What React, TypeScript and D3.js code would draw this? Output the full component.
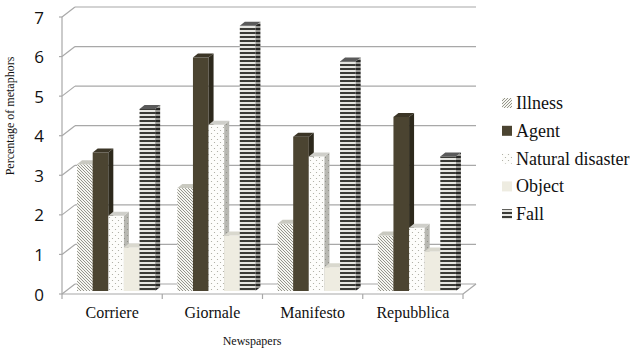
import * as d3 from 'd3';

const categories = ['Corriere', 'Giornale', 'Manifesto', 'Repubblica'];
const seriesNames = ['Illness', 'Agent', 'Natural disaster', 'Object', 'Fall'];
const illness = [3.2, 2.6, 1.7, 1.4];
const agent = [3.5, 5.9, 3.9, 4.4];
const naturalDisaster = [1.9, 4.2, 3.4, 1.6];
const object = [1.1, 1.4, 0.6, 1.0];
const fall = [4.6, 6.7, 5.8, 3.4];
const yTicks = [0, 1, 2, 3, 4, 5, 6, 7];

const values = [illness, agent, naturalDisaster, object, fall];

// front face / side / top fills per series
const faces = [
	{ front: 'url(#pIll)', side: 'url(#pIllS)', top: '#c9c9c0', legend: 'url(#pIllL)' },
	{ front: '#4b4431', side: '#2d291c', top: '#3b3526', legend: '#4b4431' },
	{ front: 'url(#pNat)', side: 'url(#pNatS)', top: '#cfcfca', legend: 'url(#pNat)' },
	{ front: '#eeece1', side: '#c9c8bd', top: '#d9d8ce', legend: '#eeece1' },
	{ front: 'url(#pFall)', side: 'url(#pFallS)', top: '#5a5a5a', legend: 'url(#pFall)' },
];

const W = 640;
const H = 352;
const axisX = 62;
const plotRight = 463;
const wallDx = 13;
const wallDy = -10;
const barDx = 4;
const barDy = -3;
const depthX = 5;
const depthY = -4;
const serif = "'Liberation Serif', 'Times New Roman', Times, serif";

export default function App() {
	const x0 = d3.scaleBand<string>().domain(categories).range([axisX, plotRight]);
	const x1 = d3
		.scaleBand<string>()
		.domain(seriesNames)
		.range([0, x0.bandwidth()])
		.paddingInner(0)
		.paddingOuter(0.71);
	const y = d3.scaleLinear().domain([0, 7]).range([294, 17]);
	const grid = '#a8a8a8';

	return (
		<svg width={W} height={H} style={{ position: 'fixed', left: 0, top: 0, background: '#fff' }}>
			<defs>
				<pattern id="pIll" patternUnits="userSpaceOnUse" width="3" height="3">
					<rect width="3" height="3" fill="#f6f6f1" />
					<path d="M-1,-1 L4,4 M-1,2 L1,4 M2,-1 L4,1" stroke="#8a8a80" strokeWidth="0.9" />
				</pattern>
				<pattern id="pIllL" patternUnits="userSpaceOnUse" width="3" height="3">
					<rect width="3" height="3" fill="#f6f6f1" />
					<path d="M-1,4 L4,-1 M-1,1 L1,-1 M2,4 L4,2" stroke="#8a8a80" strokeWidth="0.9" />
				</pattern>
				<pattern id="pIllS" patternUnits="userSpaceOnUse" width="3" height="3">
					<rect width="3" height="3" fill="#bdbdb5" />
					<path d="M-1,-1 L4,4 M-1,2 L1,4 M2,-1 L4,1" stroke="#6a6a62" strokeWidth="0.9" />
				</pattern>
				<pattern id="pNat" patternUnits="userSpaceOnUse" width="6" height="6">
					<rect width="6" height="6" fill="#fdfdfb" />
					<circle cx="1.5" cy="1.5" r="0.6" fill="#a5a59a" />
					<circle cx="4.5" cy="4.5" r="0.6" fill="#a5a59a" />
				</pattern>
				<pattern id="pNatS" patternUnits="userSpaceOnUse" width="6" height="6">
					<rect width="6" height="6" fill="#b8b8b2" />
					<circle cx="1.5" cy="1.5" r="0.6" fill="#8a8a82" />
					<circle cx="4.5" cy="4.5" r="0.6" fill="#8a8a82" />
				</pattern>
				<pattern id="pFall" patternUnits="userSpaceOnUse" width="4" height="4">
					<rect width="4" height="4" fill="#e6e6e2" />
					<rect width="4" height="2" fill="#3a3a36" />
				</pattern>
				<pattern id="pFallS" patternUnits="userSpaceOnUse" width="4" height="4">
					<rect width="4" height="4" fill="#9a9a96" />
					<rect width="4" height="2" fill="#262624" />
				</pattern>
			</defs>

			{/* walls and grid */}
			{yTicks.map((t) => (
				<g key={t}>
					<line x1={axisX} y1={y(t)} x2={axisX + wallDx} y2={y(t) + wallDy} stroke={grid} strokeWidth={1.2} />
					<line
						x1={axisX + wallDx}
						y1={y(t) + wallDy}
						x2={plotRight + wallDx}
						y2={y(t) + wallDy}
						stroke={grid}
						strokeWidth={1.2}
					/>
					<line x1={axisX - 3} y1={y(t)} x2={axisX} y2={y(t)} stroke={grid} strokeWidth={1.2} />
					<text
						x={44}
						y={y(t)}
						textAnchor="end"
						dominantBaseline="central"
						style={{ fontFamily: "'Open Sans', sans-serif", fontSize: 17 }}
						fill="#111"
					>
						{t}
					</text>
				</g>
			))}
			<line x1={axisX} y1={y(0)} x2={axisX} y2={y(7)} stroke={grid} strokeWidth={1.2} />
			<line x1={axisX} y1={y(0)} x2={plotRight} y2={y(0)} stroke={grid} strokeWidth={1.2} />
			<line
				x1={plotRight}
				y1={y(0)}
				x2={plotRight + wallDx}
				y2={y(0) + wallDy}
				stroke={grid}
				strokeWidth={1.2}
			/>
			{[...categories.map((c) => x0(c)!), plotRight].map((xv, i) => (
				<line key={i} x1={xv} y1={y(0)} x2={xv} y2={y(0) + 5} stroke={grid} strokeWidth={1.2} />
			))}

			{/* bars */}
			{categories.map((c, ci) => (
				<g key={c}>
					{seriesNames.map((s, si) => {
						const v = values[si][ci];
						const w = x1.bandwidth();
						const bx = x0(c)! + x1(s)! + barDx;
						const top = y(v) + barDy;
						const base = y(0) + barDy;
						const f = faces[si];
						return (
							<g key={s}>
								<rect x={bx} y={top} width={w} height={base - top} fill={f.front} />
								<polygon
									points={`${bx + w},${top} ${bx + w + depthX},${top + depthY} ${bx + w + depthX},${base + depthY} ${bx + w},${base}`}
									fill={f.side}
								/>
								<polygon
									points={`${bx},${top} ${bx + depthX},${top + depthY} ${bx + w + depthX},${top + depthY} ${bx + w},${top}`}
									fill={f.top}
								/>
							</g>
						);
					})}
				</g>
			))}

			{/* category labels */}
			{categories.map((c) => (
				<text
					key={c}
					x={x0(c)! + x0.bandwidth() / 2}
					y={318}
					textAnchor="middle"
					style={{ fontFamily: serif, fontSize: 16 }}
					fill="#111"
				>
					{c}
				</text>
			))}
			<text x={252} y={345} textAnchor="middle" style={{ fontFamily: serif, fontSize: 12 }} fill="#111">
				Newspapers
			</text>
			<text
				transform={`translate(14,116) rotate(-90)`}
				textAnchor="middle"
				style={{ fontFamily: serif, fontSize: 12 }}
				fill="#111"
			>
				Percentage of metaphors
			</text>

			{/* legend */}
			{seriesNames.map((s, i) => {
				const ly = 103 + i * 27.8;
				return (
					<g key={s}>
						<rect x={502} y={ly - 5} width={10} height={10} fill={faces[i].legend} />
						<text x={516} y={ly} dominantBaseline="central" style={{ fontFamily: serif, fontSize: 18 }} fill="#111">
							{s}
						</text>
					</g>
				);
			})}
		</svg>
	);
}
